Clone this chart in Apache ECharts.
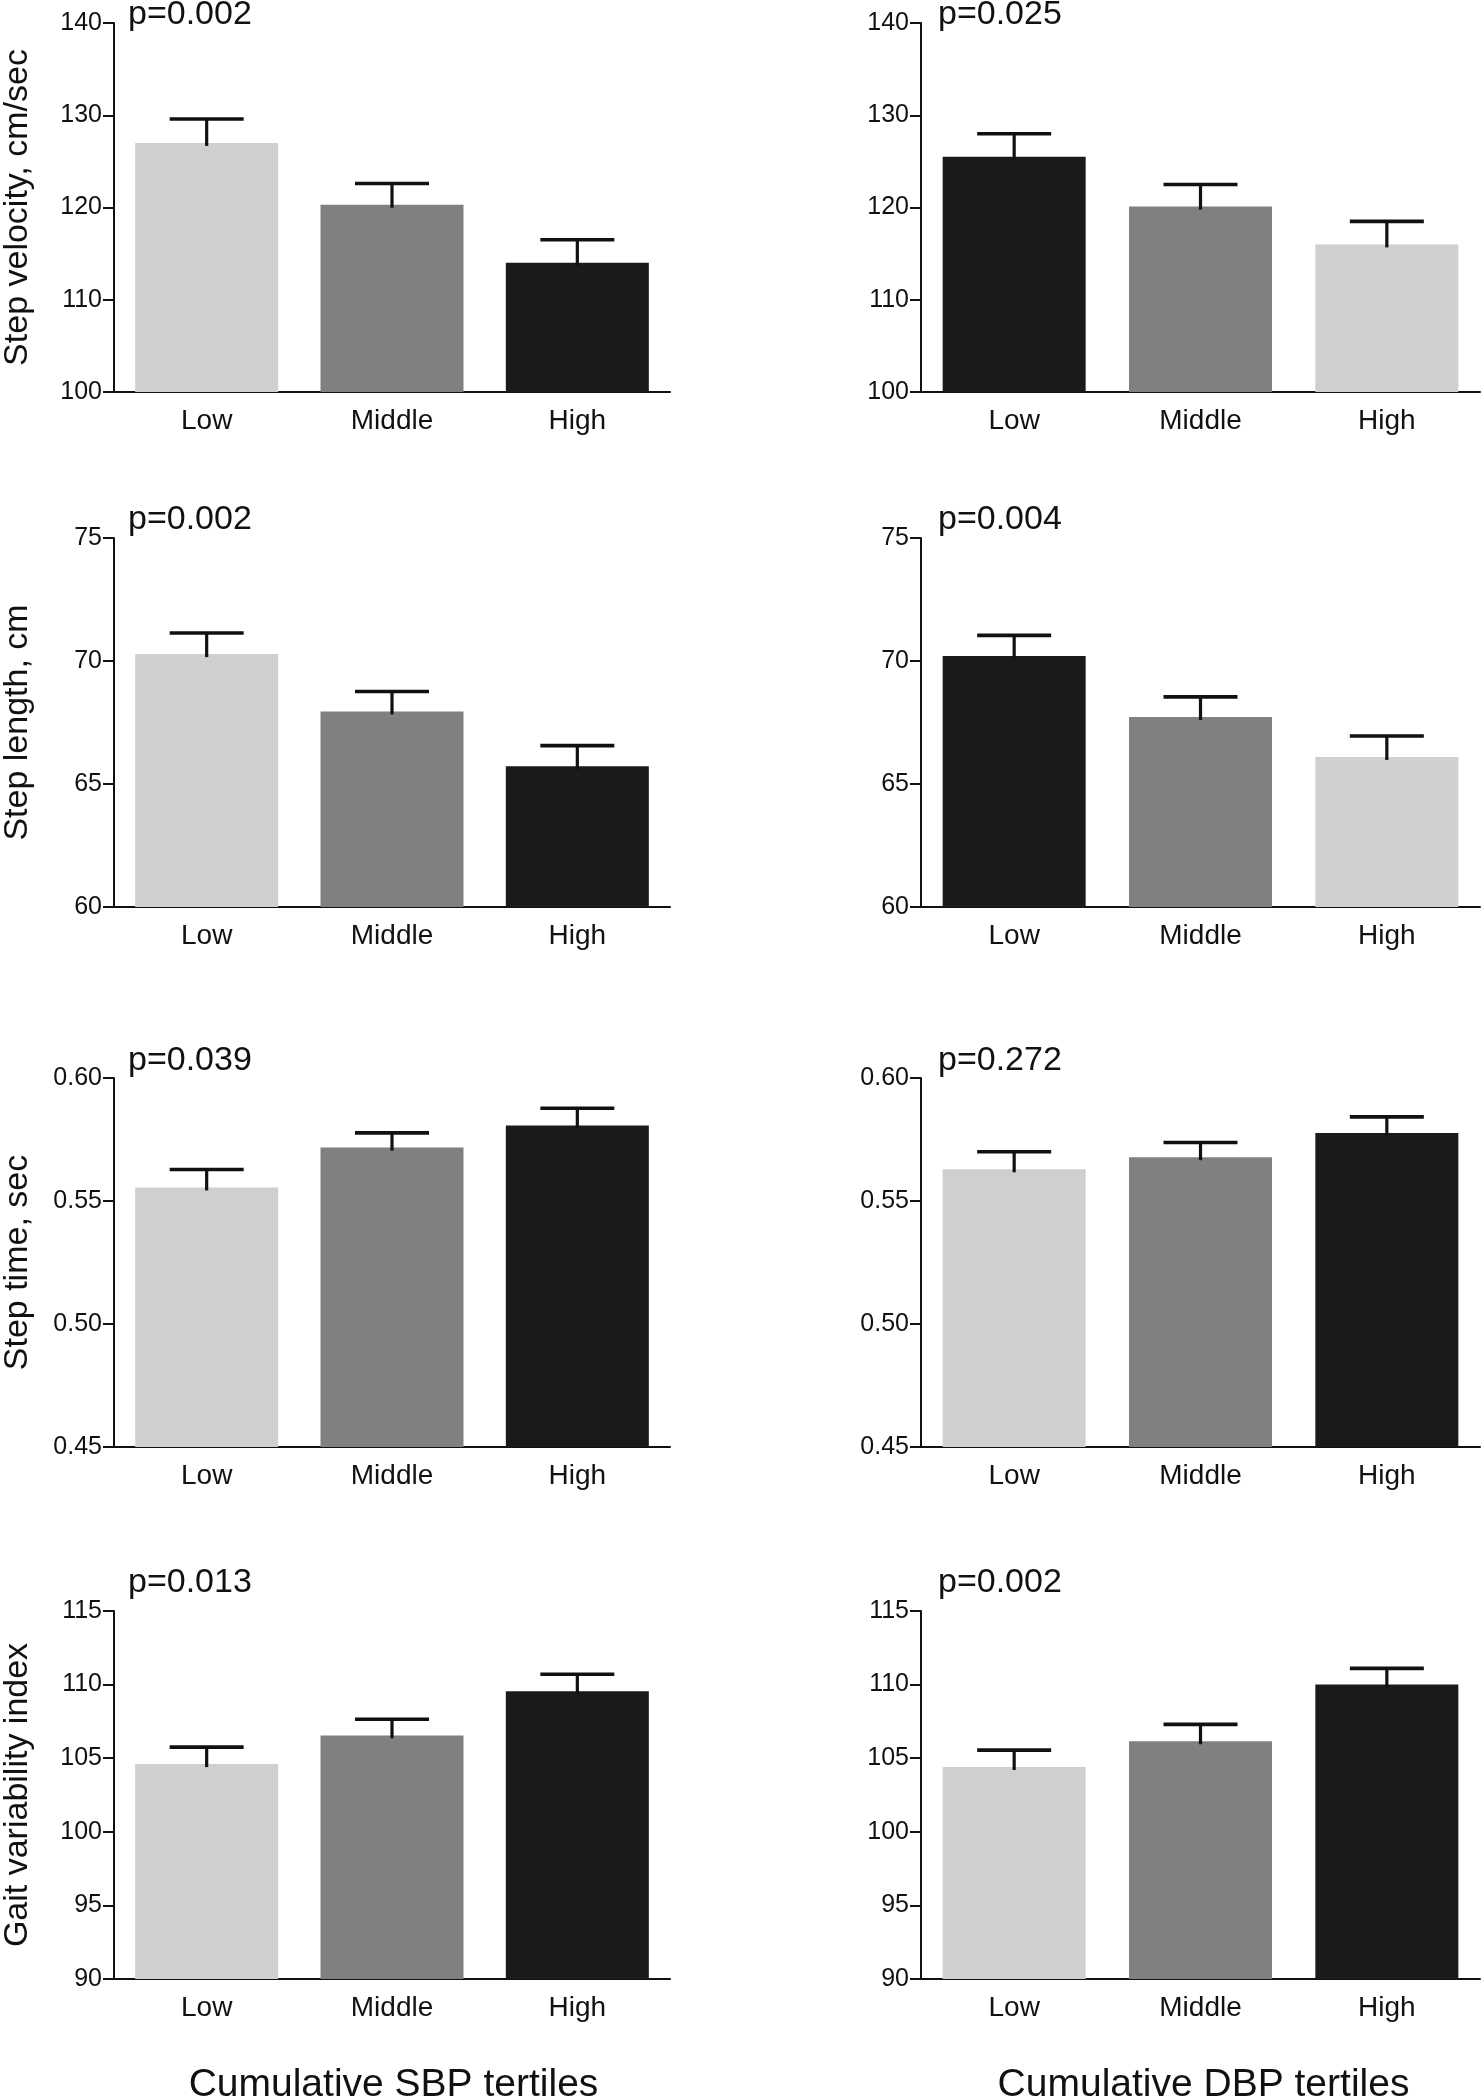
<!DOCTYPE html>
<html>
<head>
<meta charset="utf-8">
<script src="https://cdn.jsdelivr.net/npm/echarts@6/dist/echarts.min.js"></script>
<style>
html,body{margin:0;padding:0;background:#fff;}
#chart{width:1481px;height:2100px;}
</style>
</head>
<body>
<div id="chart"></div>
<script>
// ---------- data ----------
const categories = ['Low', 'Middle', 'High'];

const sbpVelocityMean = [127.0, 120.3, 114.0];
const sbpVelocityErr  = [2.6, 2.3, 2.5];
const dbpVelocityMean = [125.5, 120.1, 116.0];
const dbpVelocityErr  = [2.5, 2.4, 2.5];

const sbpLengthMean = [70.28, 67.95, 65.72];
const sbpLengthErr  = [0.86, 0.81, 0.84];
const dbpLengthMean = [70.20, 67.72, 66.10];
const dbpLengthErr  = [0.84, 0.82, 0.85];

const sbpTimeMean = [0.5555, 0.5717, 0.5807];
const sbpTimeErr  = [0.0073, 0.0060, 0.0070];
const dbpTimeMean = [0.5629, 0.5678, 0.5776];
const dbpTimeErr  = [0.0071, 0.0060, 0.0066];

const sbpGviMean = [104.6, 106.55, 109.55];
const sbpGviErr  = [1.15, 1.10, 1.15];
const dbpGviMean = [104.4, 106.15, 110.0];
const dbpGviErr  = [1.15, 1.15, 1.10];

const velocityTicks = [100, 110, 120, 130, 140];
const lengthTicks   = [60, 65, 70, 75];
const timeTicks     = [0.45, 0.50, 0.55, 0.60];
const gviTicks      = [90, 95, 100, 105, 110, 115];

const rowTitles = ['Step velocity, cm/sec', 'Step length, cm', 'Step time, sec', 'Gait variability index'];
const sbpPValues = ['p=0.002', 'p=0.002', 'p=0.039', 'p=0.013'];
const dbpPValues = ['p=0.025', 'p=0.004', 'p=0.272', 'p=0.002'];
const columnTitles = ['Cumulative SBP tertiles', 'Cumulative DBP tertiles'];

// ---------- styling ----------
const LIGHT = '#cfcfcf', MID = '#808080', DARK = '#1a1a1a';
const FONT = '"Liberation Sans", Arial, Helvetica, sans-serif';
const INK = '#111';

const colX = [111, 921];
const gridW = 559;
const rows = [
  {top: 23, h: 369},
  {top: 538, h: 369},
  {top: 1078, h: 369},
  {top: 1611, h: 368}
];
const pMiddleY = [15, 520, 1061, 1583];

const panels = [
  {row:0, col:0, mean:sbpVelocityMean, err:sbpVelocityErr, ticks:velocityTicks, dec:0, p:sbpPValues[0], colors:[LIGHT, MID, DARK]},
  {row:0, col:1, mean:dbpVelocityMean, err:dbpVelocityErr, ticks:velocityTicks, dec:0, p:dbpPValues[0], colors:[DARK, MID, LIGHT]},
  {row:1, col:0, mean:sbpLengthMean, err:sbpLengthErr, ticks:lengthTicks, dec:0, p:sbpPValues[1], colors:[LIGHT, MID, DARK]},
  {row:1, col:1, mean:dbpLengthMean, err:dbpLengthErr, ticks:lengthTicks, dec:0, p:dbpPValues[1], colors:[DARK, MID, LIGHT]},
  {row:2, col:0, mean:sbpTimeMean, err:sbpTimeErr, ticks:timeTicks, dec:2, p:sbpPValues[2], colors:[LIGHT, MID, DARK]},
  {row:2, col:1, mean:dbpTimeMean, err:dbpTimeErr, ticks:timeTicks, dec:2, p:dbpPValues[2], colors:[LIGHT, MID, DARK]},
  {row:3, col:0, mean:sbpGviMean, err:sbpGviErr, ticks:gviTicks, dec:0, p:sbpPValues[3], colors:[LIGHT, MID, DARK]},
  {row:3, col:1, mean:dbpGviMean, err:dbpGviErr, ticks:gviTicks, dec:0, p:dbpPValues[3], colors:[LIGHT, MID, DARK]}
];

function renderErr(params, api) {
  const x = api.value(0);
  const lo = api.coord([x, api.value(1)]);
  const hi = api.coord([x, api.value(2)]);
  const half = 37;
  return {
    type: 'group',
    children: [
      {type: 'line', shape: {x1: lo[0], y1: lo[1] + 3, x2: hi[0], y2: hi[1]},
       style: {stroke: INK, lineWidth: 3.2}},
      {type: 'line', shape: {x1: hi[0] - half, y1: hi[1], x2: hi[0] + half, y2: hi[1]},
       style: {stroke: INK, lineWidth: 3.6}}
    ]
  };
}

const grid = [], xAxis = [], yAxis = [], series = [], graphic = [];

panels.forEach((pn, i) => {
  const r = rows[pn.row];
  grid.push({left: colX[pn.col], top: r.top, width: gridW, height: r.h, containLabel: false});
  xAxis.push({
    type: 'category', gridIndex: i, data: categories,
    axisLine: {lineStyle: {color: INK, width: 2}},
    axisTick: {alignWithLabel: true, length: 10, lineStyle: {color: INK, width: 2}},
    axisLabel: {fontSize: 28, fontFamily: FONT, color: INK, margin: 15}
  });
  const interval = +(pn.ticks[1] - pn.ticks[0]).toFixed(4);
  yAxis.push({
    type: 'value', gridIndex: i,
    min: pn.ticks[0], max: pn.ticks[pn.ticks.length - 1], interval: interval,
    splitLine: {show: false},
    axisLine: {show: true, lineStyle: {color: INK, width: 2}},
    axisTick: {show: true, length: 11, lineStyle: {color: INK, width: 2}},
    axisLabel: {fontSize: 25, fontFamily: FONT, color: INK, margin: 12,
      formatter: v => pn.dec ? v.toFixed(pn.dec) : String(Math.round(v))},
    name: pn.col === 0 ? rowTitles[pn.row] : '',
    nameLocation: 'middle', nameRotate: 90, nameGap: 79,
    nameTextStyle: {fontSize: 34, fontFamily: FONT, color: INK}
  });
  series.push({
    type: 'bar', xAxisIndex: i, yAxisIndex: i, barWidth: 143,
    data: pn.mean.map((v, k) => ({value: v, itemStyle: {color: pn.colors[k]}})),
    z: 2
  });
  series.push({
    type: 'custom', xAxisIndex: i, yAxisIndex: i, renderItem: renderErr,
    encode: {x: 0, y: [1, 2]},
    data: pn.mean.map((v, k) => [k, v, v + pn.err[k]]),
    z: 3
  });
  graphic.push({
    type: 'text', x: colX[pn.col] + 17, y: pMiddleY[pn.row],
    style: {text: pn.p, font: '34px ' + FONT, fill: INK, textAlign: 'left', textVerticalAlign: 'middle'}
  });
});

columnTitles.forEach((t, c) => {
  graphic.push({
    type: 'text', x: colX[c] + gridW / 2 + 3, y: 2085,
    style: {text: t, font: '39px ' + FONT, fill: INK, textAlign: 'center', textVerticalAlign: 'middle'}
  });
});

const chart = echarts.init(document.getElementById('chart'), null, {renderer: 'canvas'});
chart.setOption({
  animation: false,
  backgroundColor: '#ffffff',
  grid, xAxis, yAxis, series, graphic
});
</script>
</body>
</html>
